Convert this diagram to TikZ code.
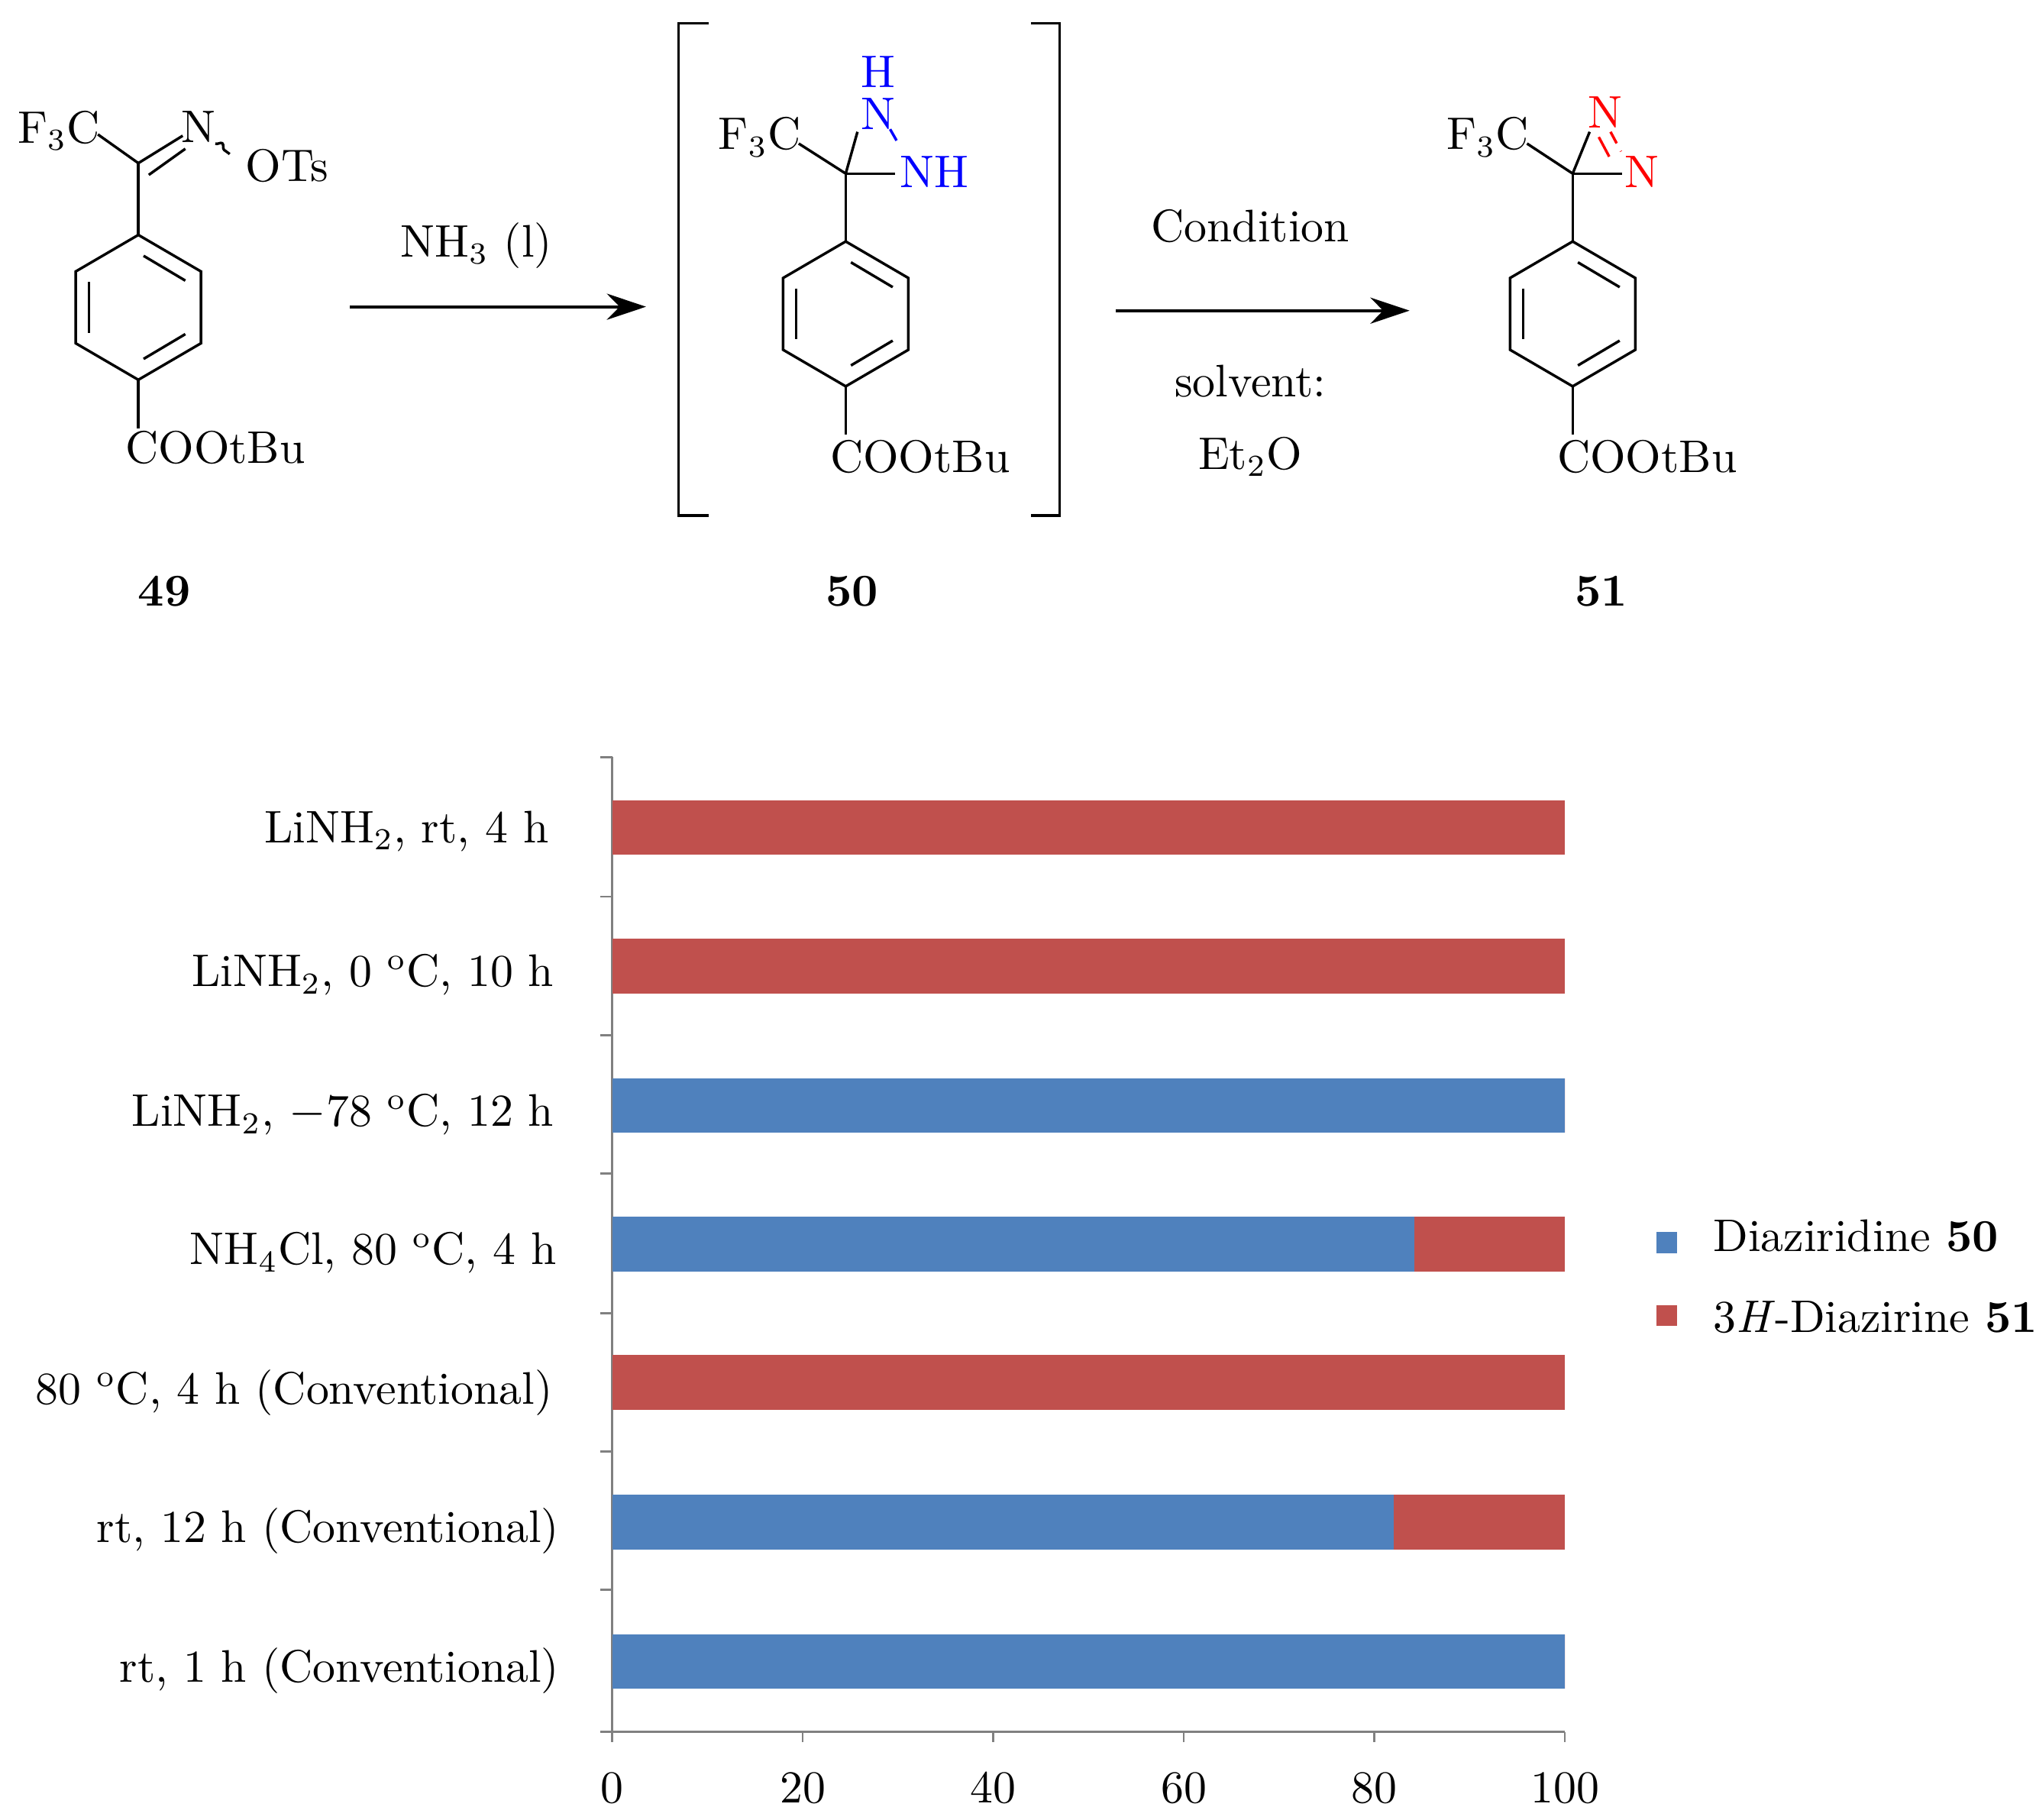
\documentclass[tikz,border=0pt]{standalone}
\usetikzlibrary{arrows.meta,decorations.pathmorphing}
\definecolor{barblue}{HTML}{4F81BD}
\definecolor{barred}{HTML}{C0504D}
\begin{document}
\begin{tikzpicture}[x=0.3pt,y=-0.3pt,font=\fontsize{10.5}{12}\selectfont,
  bond/.style={line width=0.6pt},
  rxn/.style={line width=0.7pt,-{Stealth[length=9pt,width=6pt]}},
  lbl/.style={inner sep=1pt},
  cat/.style={anchor=east,inner sep=0pt},
  tickl/.style={gray,line width=0.5pt}]
\useasboundingbox (0,0) rectangle (1560,1394);
% ring macro
\newcommand{\benz}[2]{% cx, top y
 \draw[bond] (#1,#2) -- (#1+48,#2+28) -- (#1+48,#2+83) -- (#1,#2+111) -- (#1-48,#2+83) -- (#1-48,#2+28) -- cycle;
 \draw[bond] (#1+4,#2+16) -- (#1+36,#2+35);
 \draw[bond] (#1+36,#2+76) -- (#1+4,#2+95);
 \draw[bond] (#1-38,#2+36) -- (#1-38,#2+75);}
% ---- 49
\node[lbl] (f49) at (45,100) {F$_3$C};
\node[lbl] (n49) at (152,97) {N};
\node[lbl] (o49) at (220,127) {OTs};
\coordinate (c49) at (106,125);
\draw[bond] (75,103) -- (c49);
\draw[bond] (c49) -- (140,104);
\draw[bond] (114,134) -- (142,114);
\draw[bond,decorate,decoration={snake,amplitude=1pt,segment length=4pt}] (165,110) -- (176,118);
\draw[bond] (c49) -- (106,180);
\benz{106}{180}
\draw[bond] (106,291) -- (106,328);
\node[lbl] (e49) at (165,343) {COOtBu};
\node[lbl,font=\fontsize{10.5}{12}\selectfont\bfseries] (l49) at (126,453) {49};
% arrow 1
\coordinate (a1s) at (268,235); \coordinate (a1e) at (495,235);
\draw[rxn] (a1s) -- (a1e);
\node[lbl] (nh3) at (365,188) {NH$_3$ (l)};
% brackets
\draw[bond] (543,18) -- (520,18) -- (520,395) -- (543,395);
\draw[bond] (790,18) -- (812,18) -- (812,395) -- (790,395);
% ---- 50
\coordinate (c50) at (648,133);
\node[lbl] (f50) at (582,105) {F$_3$C};
\node[lbl,blue] (h50) at (673,55) {H};
\node[lbl,blue] (n50) at (673,87) {N};
\node[lbl,blue] (nh50) at (716,132) {NH};
\draw[bond] (612,110) -- (c50);
\draw[bond] (c50) -- (657,101);
\draw[bond] (c50) -- (686,133);
\draw[bond,blue,dashed,dash pattern=on 3pt off 3pt] (682,99) -- (690,113);
\draw[bond] (c50) -- (648,185);
\benz{648}{185}
\draw[bond] (648,296) -- (648,333);
\node[lbl] (e50) at (705,350) {COOtBu};
\node[lbl,font=\fontsize{10.5}{12}\selectfont\bfseries] (l50) at (653,453) {50};
% arrow 2
\coordinate (a2s) at (855,238); \coordinate (a2e) at (1080,238);
\draw[rxn] (a2s) -- (a2e);
\node[lbl] (cond) at (958,173) {Condition};
\node[lbl] (solv) at (958,292) {solvent:};
\node[lbl] (et2o) at (958,350) {Et$_2$O};
% ---- 51
\coordinate (c51) at (1205,133);
\node[lbl] (f51) at (1140,105) {F$_3$C};
\node[lbl,red] (na51) at (1230,86) {N};
\node[lbl,red] (nb51) at (1258,132) {N};
\draw[bond] (1170,110) -- (c51);
\draw[bond] (c51) -- (1218,101);
\draw[bond] (c51) -- (1243,133);
\draw[bond,red] (1225,105) -- (1233,120);
\draw[bond,red,dash pattern=on 3pt off 2pt] (1234,101) -- (1242,116);
\draw[bond] (c51) -- (1205,185);
\benz{1205}{185}
\draw[bond] (1205,296) -- (1205,333);
\node[lbl] (e51) at (1262,350) {COOtBu};
\node[lbl,font=\fontsize{10.5}{12}\selectfont\bfseries] (l51) at (1227,453) {51};
% ---- chart
\coordinate (ax0) at (469,580); \coordinate (ax1) at (469,1327);
\draw[tickl] (ax0) -- (ax1) -- (1199,1327);
\foreach \y in {580,687,793,899,1006,1112,1218,1327} \draw[tickl] (460,\y) -- (469,\y);
\foreach \k in {0,1,...,5} {
  \draw[tickl] (469+146*\k,1327) -- (469+146*\k,1335);
  \node[lbl] (t\k) at (469+146*\k,1370) {\pgfmathparse{int(20*\k)}\pgfmathresult};}
\foreach \yc/\b in {634/0,740/0,847/100,953/84.2,1059/0,1166/82,1273/100} {
  \pgfmathsetmacro{\xb}{469+7.3*\b}
  \fill[barred] (\xb,\yc-21) rectangle (1199,\yc+21);
  \ifdim \b pt>0pt \fill[barblue] (469,\yc-21) rectangle (\xb,\yc+21);\fi
}
\node[cat] (k1) at (421,637) {LiNH$_2$, rt, 4 h};
\node[cat] (k2) at (425,747) {LiNH$_2$, 0 $^{\rm o}$C, 10 h};
\node[cat] (k3) at (425,854) {LiNH$_2$, $-$78 $^{\rm o}$C, 12 h};
\node[cat] (k4) at (427,960) {NH$_4$Cl, 80 $^{\rm o}$C, 4 h};
\node[cat] (k5) at (424,1067) {80 $^{\rm o}$C, 4 h (Conventional)};
\node[cat] (k6) at (429,1173) {rt, 12 h (Conventional)};
\node[cat] (k7) at (429,1280) {rt, 1 h (Conventional)};
% legend
\fill[barblue] (1269,944) rectangle (1285,960);
\fill[barred] (1269,1000) rectangle (1285,1016);
\node[anchor=west,inner sep=0pt] (lg1) at (1312,947) {Diaziridine \textbf{50}};
\node[anchor=west,inner sep=0pt] (lg2) at (1312,1009) {3\textit{H}-Diazirine \textbf{51}};
\end{tikzpicture}
\end{document}
